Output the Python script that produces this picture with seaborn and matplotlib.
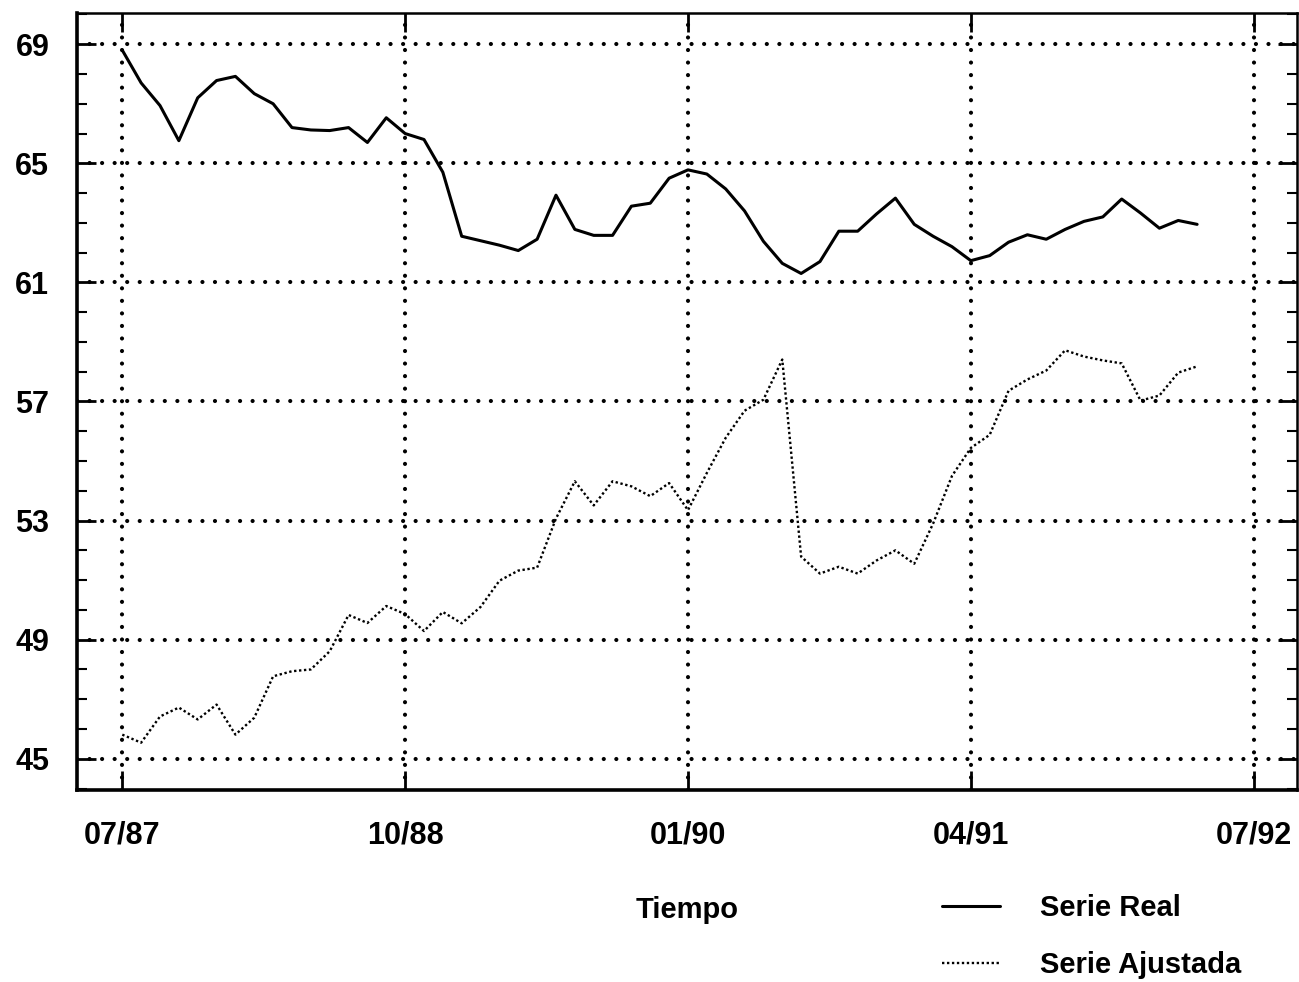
import numpy as np
import pandas as pd
import matplotlib
matplotlib.use("Agg")
import matplotlib.pyplot as plt
from matplotlib.ticker import MultipleLocator
import seaborn as sns

# monthly values, 07/87 .. 04/92
serie_real = [68.8, 67.7, 66.94, 65.76, 67.2, 67.78, 67.92, 67.34, 67.0, 66.2,
              66.12, 66.1, 66.2, 65.7, 66.53, 66.0, 65.8, 64.7, 62.55, 62.4,
              62.25, 62.07, 62.45, 63.93, 62.78, 62.58, 62.58, 63.56, 63.66, 64.5,
              64.78, 64.64, 64.14, 63.4, 62.38, 61.64, 61.3, 61.7, 62.72, 62.72,
              63.3, 63.83, 62.95, 62.55, 62.2, 61.73, 61.9, 62.35, 62.6, 62.45,
              62.78, 63.05, 63.2, 63.8, 63.33, 62.82, 63.08, 62.95]
serie_ajustada = [45.81, 45.54, 46.42, 46.72, 46.32, 46.82, 45.81, 46.38, 47.77, 47.94,
                  48.0, 48.61, 49.83, 49.56, 50.13, 49.86, 49.29, 49.93, 49.55, 50.1,
                  50.98, 51.32, 51.42, 53.07, 54.32, 53.51, 54.32, 54.15, 53.82, 54.26,
                  53.35, 54.6, 55.78, 56.69, 57.06, 58.41, 51.79, 51.22, 51.45, 51.22,
                  51.66, 52.0, 51.55, 52.9, 54.5, 55.44, 55.88, 57.36, 57.74, 58.04,
                  58.72, 58.51, 58.38, 58.28, 57.03, 57.2, 57.97, 58.18]
tick_months = [0, 15, 30, 45, 60]
tick_labels = ["07/87", "10/88", "01/90", "04/91", "07/92"]
y_ticks = [45, 49, 53, 57, 61, 65, 69]

df = pd.DataFrame({"mes": np.arange(len(serie_real)),
                   "real": serie_real, "ajustada": serie_ajustada})

sns.set_style("ticks")
plt.rcParams["font.family"] = ["Liberation Sans", "DejaVu Sans"]
plt.rcParams["font.weight"] = "bold"
plt.rcParams["text.color"] = "black"
plt.rcParams["axes.labelcolor"] = "black"

fig = plt.figure(figsize=(12.99, 9.82), dpi=100)
ax = fig.add_axes([0.0593, 0.1955, 0.9392, 0.7913])

sns.lineplot(data=df, x="mes", y="real", ax=ax, color="black", linewidth=2.2,
             label="Serie Real")
sns.lineplot(data=df, x="mes", y="ajustada", ax=ax, color="black", linewidth=1.7,
             linestyle=(0, (1, 1.1)), label="Serie Ajustada")

ax.set_xlim(-2.4, 62.3)
ax.set_ylim(43.95, 70.05)
ax.set_xticks(tick_months)
ax.set_xticklabels(tick_labels)
ax.set_yticks(y_ticks)
ax.yaxis.set_minor_locator(MultipleLocator(1))

# dotted grid on major ticks
ax.grid(True, which="major", color="black", linestyle=(0, (0.01, 3)),
        linewidth=3.0, dash_capstyle="round")

ax.tick_params(which="both", direction="in", top=True, right=True, colors="black")
ax.tick_params(which="major", length=14, width=2, labelsize=22, pad=20)
ax.tick_params(axis="x", which="major", pad=22)
ax.tick_params(which="minor", length=7, width=1.5)
ax.tick_params(axis="x", which="minor", top=False, bottom=False)
for lab in ax.get_xticklabels() + ax.get_yticklabels():
    lab.set_fontweight("bold")

for side, lw in [("left", 2.6), ("bottom", 2.6), ("top", 1.8), ("right", 1.8)]:
    ax.spines[side].set_visible(True)
    ax.spines[side].set_linewidth(lw)
    ax.spines[side].set_color("black")

ax.set_ylabel("")
ax.set_xlabel("Tiempo", fontsize=21, fontweight="bold", labelpad=33)

leg = ax.legend(loc="upper left", bbox_to_anchor=(0.7252, 0.0896), bbox_transform=fig.transFigure,
                frameon=False, fontsize=21, handlelength=2.0, handletextpad=1.37,
                labelspacing=1.0, borderpad=0, borderaxespad=0)
for t in leg.get_texts():
    t.set_fontweight("bold")
    t.set_color("black")

fig.savefig("out.png", dpi=100)
